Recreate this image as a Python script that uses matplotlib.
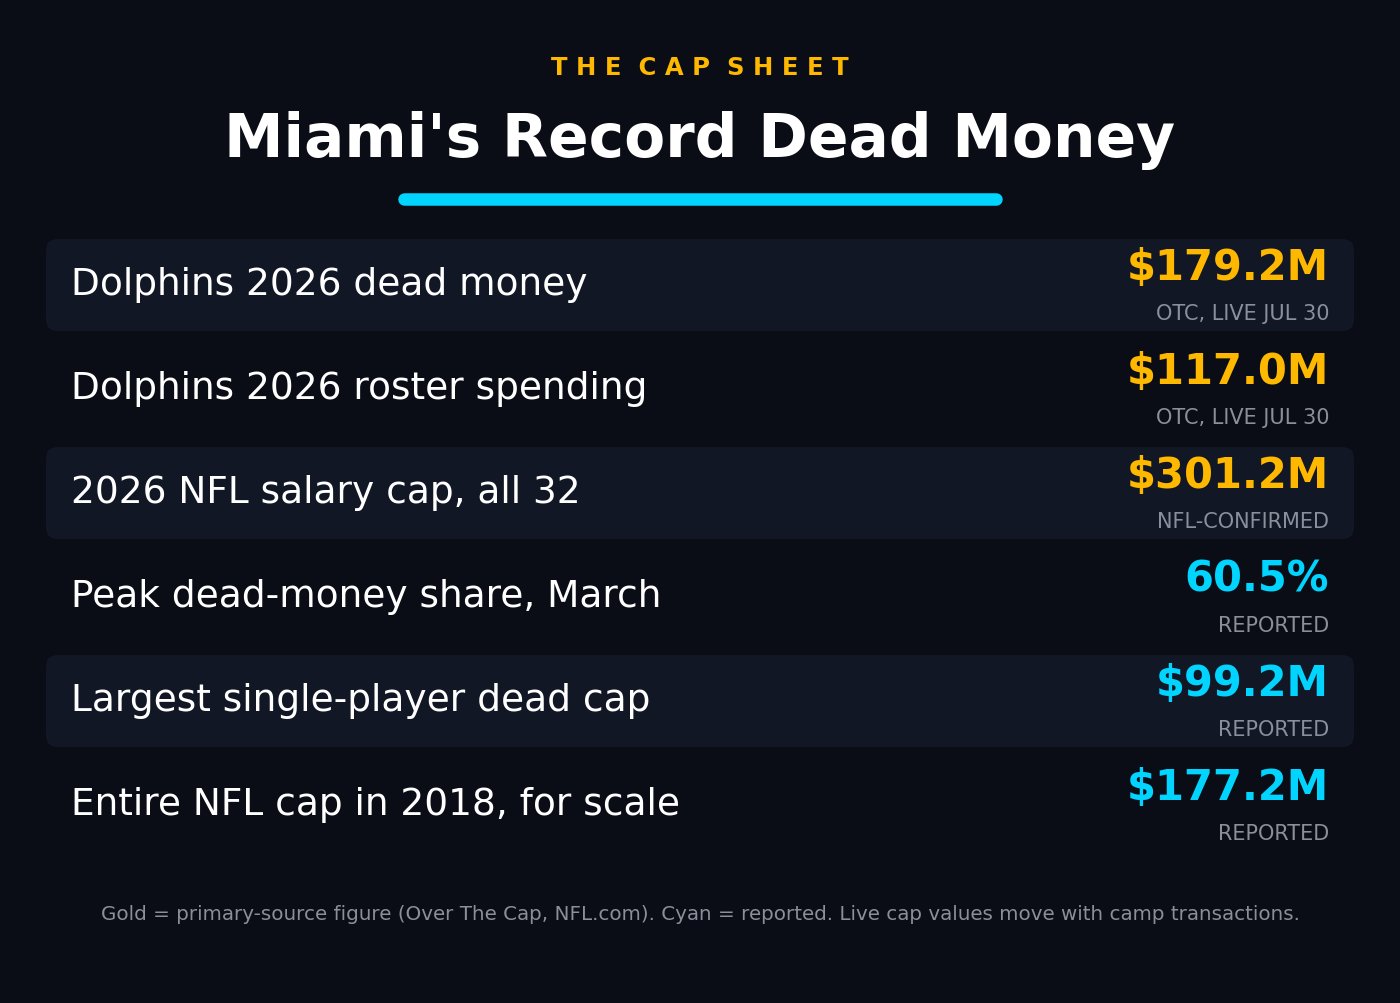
import matplotlib.pyplot as plt
from matplotlib.patches import FancyBboxPatch

# rows of the cap sheet
labels = [
    "Dolphins 2026 dead money",
    "Dolphins 2026 roster spending",
    "2026 NFL salary cap, all 32",
    "Peak dead-money share, March",
    "Largest single-player dead cap",
    "Entire NFL cap in 2018, for scale",
]
values = [179.2, 117.0, 301.2, 60.5, 99.2, 177.2]
units = ["M", "M", "M", "%", "M", "M"]
sources = ["OTC, LIVE JUL 30", "OTC, LIVE JUL 30", "NFL-CONFIRMED",
           "REPORTED", "REPORTED", "REPORTED"]
primary = [True, True, True, False, False, False]

BG = "#0a0d16"
BAND = "#121726"
GOLD = "#ffb800"
CYAN = "#00d4ff"
GRAY = "#8b8f9a"
FONT = "DejaVu Sans"

W, H = 1400, 1004
fig = plt.figure(figsize=(W / 100, H / 100), dpi=100, facecolor=BG)
ax = fig.add_axes([0, 0, 1, 1])
ax.set_xlim(0, W)
ax.set_ylim(H, 0)
ax.axis("off")
ax.set_facecolor(BG)

# header, letter-spaced
kicker = "  ".join(" ".join(w) for w in "THE CAP SHEET".split())
ax.text(W / 2, 68, kicker, color=GOLD, fontsize=17.5, fontweight="bold",
        ha="center", va="center", family=FONT)
ax.text(W / 2, 140, "Miami's Record Dead Money", color="white", fontsize=43,
        fontweight="bold", ha="center", va="center", family=FONT)
ax.plot([404, 996], [200, 200], color=CYAN, lw=9, solid_capstyle="round")

top, pitch, rh = 240, 104, 92
for i, (lab, val, u, src, prim) in enumerate(zip(labels, values, units, sources, primary)):
    y0 = top + i * pitch
    if i % 2 == 0:
        ax.add_patch(FancyBboxPatch((46 + 12, y0 + 12), 1308 - 24, rh - 24,
                                    boxstyle="round,pad=12", fc=BAND, ec="none"))
    ax.text(71, y0 + rh / 2 - 1, lab, color="white", fontsize=27,
            ha="left", va="center", family=FONT)
    txt = f"${val:.1f}M" if u == "M" else f"{val:.1f}%"
    ax.text(1329, y0 + 28, txt, color=GOLD if prim else CYAN, fontsize=30,
            fontweight="bold", ha="right", va="center", family=FONT)
    ax.text(1329, y0 + 74, src, color=GRAY, fontsize=15,
            ha="right", va="center", family=FONT)

ax.text(W / 2, 915,
        "Gold = primary-source figure (Over The Cap, NFL.com). Cyan = reported. "
        "Live cap values move with camp transactions.",
        color=GRAY, fontsize=14.3, ha="center", va="center", family=FONT)

fig.savefig("out.png", dpi=100, facecolor=BG)
